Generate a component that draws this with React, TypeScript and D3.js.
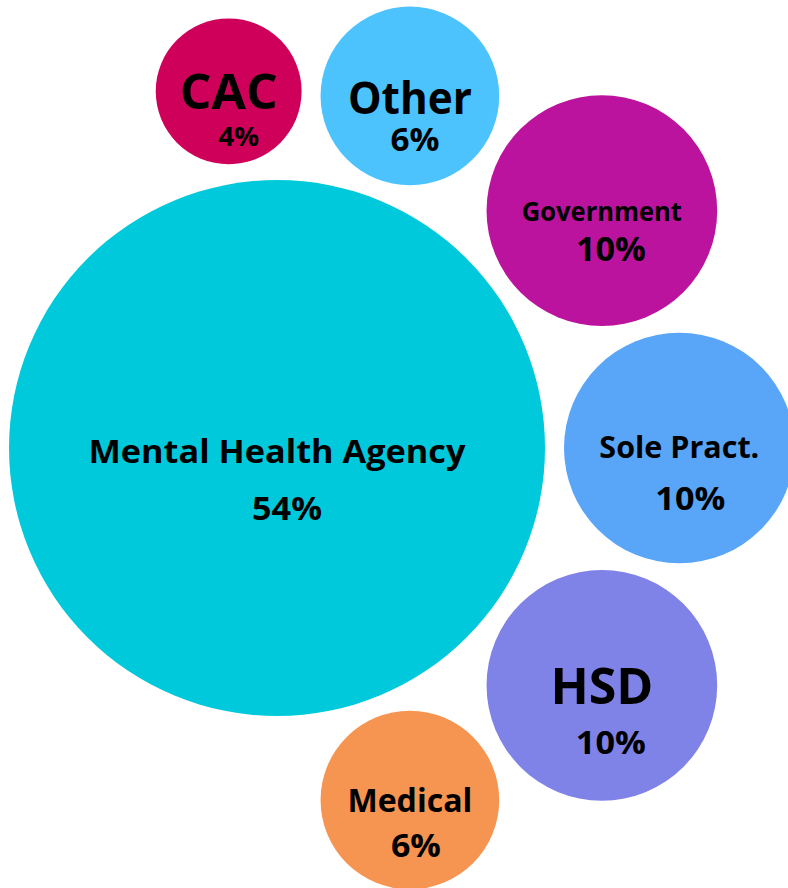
import { useEffect } from "react";
import * as d3 from "d3";

const WIDTH = 788;
const HEIGHT = 888;

// data
const categories = ["Mental Health Agency", "Sole Pract.", "Government", "Other", "CAC", "HSD", "Medical"];
const values = [54, 10, 10, 6, 4, 10, 6];
const colors = ["#00C9DB", "#59A5F7", "#BB139E", "#4CC3FD", "#CF0059", "#7F82E6", "#F69451"];

// circles are chained round the big one: [index, previous index, direction]
const chain = [
  [2, 1, -1],
  [3, 2, -1],
  [4, 3, -1],
  [5, 1, 1],
  [6, 5, 1],
];

// text styles, same order as categories
const labelSize = [33, 30, 26, 44, 48, 50, 33];
const labelDy = [15, 10, 10, 18, 18, 19, 12];
const labelWidth = [377, 160, 160, 124, 98, 103, 125];
const pctSize = [33, 33, 34, 32, 27, 33, 33];
const pctWidth = [70, 70, 70, 49, 41, 70, 50];
const pctDx = [10, 11, 9, 5, 10, 9, 6];
const pctDy = [72, 62, 50, 55, 55, 69, 57];

const CX = 277;
const CY = 448;
const GAP = 19;

export default function App() {
  useEffect(() => {
    document.body.style.margin = "0";
  }, []);

  const rScale = d3.scaleSqrt().domain([0, d3.max(values) || 1]).range([0, 268]);
  const radii = values.map((v) => rScale(v));

  const nodes = categories.map(() => ({ x: 0, y: 0, a: 0 }));
  nodes[0] = { x: CX, y: CY, a: 0 };
  const d0 = radii[0] + radii[1] + GAP;
  nodes[1] = { x: CX + d0, y: CY, a: 0 };
  chain.forEach(([i, p, s]) => {
    const d1 = radii[0] + radii[i] + GAP;
    const d2 = radii[p] + radii[i] + GAP;
    const D = Math.hypot(nodes[p].x - CX, nodes[p].y - CY);
    const theta = Math.acos((d1 * d1 + D * D - d2 * d2) / (2 * d1 * D));
    const a = nodes[p].a + s * theta;
    nodes[i] = { x: CX + d1 * Math.cos(a), y: CY + d1 * Math.sin(a), a };
  });

  return (
    <svg
      width={WIDTH}
      height={HEIGHT}
      style={{ position: "absolute", left: 0, top: 0, display: "block" }}
      fontFamily="'Open Sans', sans-serif"
      fontWeight={700}
    >
      <rect width={WIDTH} height={HEIGHT} fill="#ffffff" />
      {categories.map((c, i) => (
        <g key={c} transform={`translate(${nodes[i].x},${nodes[i].y})`}>
          <circle r={radii[i]} fill={colors[i]} />
          <text
            y={labelDy[i]}
            textAnchor="middle"
            fontSize={labelSize[i]}
            textLength={labelWidth[i]}
            lengthAdjust="spacingAndGlyphs"
            fill="#000"
          >
            {c}
          </text>
          <text
            x={pctDx[i]}
            y={pctDy[i]}
            textAnchor="middle"
            fontSize={pctSize[i]}
            textLength={pctWidth[i]}
            lengthAdjust="spacingAndGlyphs"
            fill="#000"
          >
            {values[i]}%
          </text>
        </g>
      ))}
    </svg>
  );
}
